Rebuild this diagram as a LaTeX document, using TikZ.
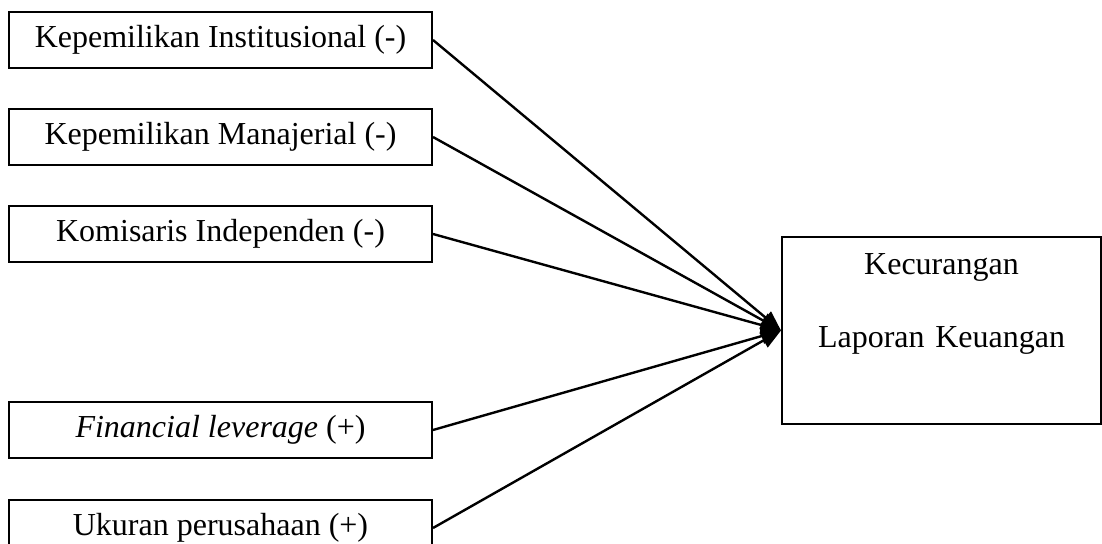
\documentclass[tikz,border=0pt]{standalone}
\usepackage{fontspec}
\setmainfont{Liberation Serif}
\usetikzlibrary{arrows.meta, positioning}

\begin{document}
\begin{tikzpicture}[
      node distance=19.5pt,
      variabel/.style={rectangle, draw, line width=1pt, minimum width=211.5pt, minimum height=28pt, inner sep=0pt, align=center, font=\fontsize{16}{18}\selectfont},
      terikat/.style={rectangle, draw, line width=1pt, inner sep=0pt, text width=159.5pt, align=center, text height=19pt, text depth=74.5pt, font=\fontsize{16}{36.5}\selectfont},
      panah/.style={-{Triangle[length=10pt, width=8pt]}, line width=1.2pt},
  ]
  \useasboundingbox (0,0) rectangle (551pt,-272pt);

  % Variabel independen
  \node[variabel] (inst) at (110.25pt,-20pt) {Kepemilikan Institusional (-)};
  \node[variabel, below=of inst] (manaj) {Kepemilikan Manajerial (-)};
  \node[variabel, below=of manaj] (komis) {Komisaris Independen (-)};
  \node[variabel, below=69pt of komis] (lev) {\textit{Financial leverage} (+)};
  \node[variabel, below=20pt of lev] (ukuran) {Ukuran perusahaan (+)};

  % Variabel dependen
  \node[terikat] (fraud) at (470.75pt,-165.25pt) {Kecurangan\\Laporan Keuangan};

  % Panah
  \draw[panah] (inst.east) -- (fraud.west);
  \draw[panah] (manaj.east) -- (fraud.west);
  \draw[panah] (komis.east) -- (fraud.west);
  \draw[panah] (lev.east) -- (fraud.west);
  \draw[panah] (ukuran.east) -- (fraud.west);

\end{tikzpicture}
\end{document}
